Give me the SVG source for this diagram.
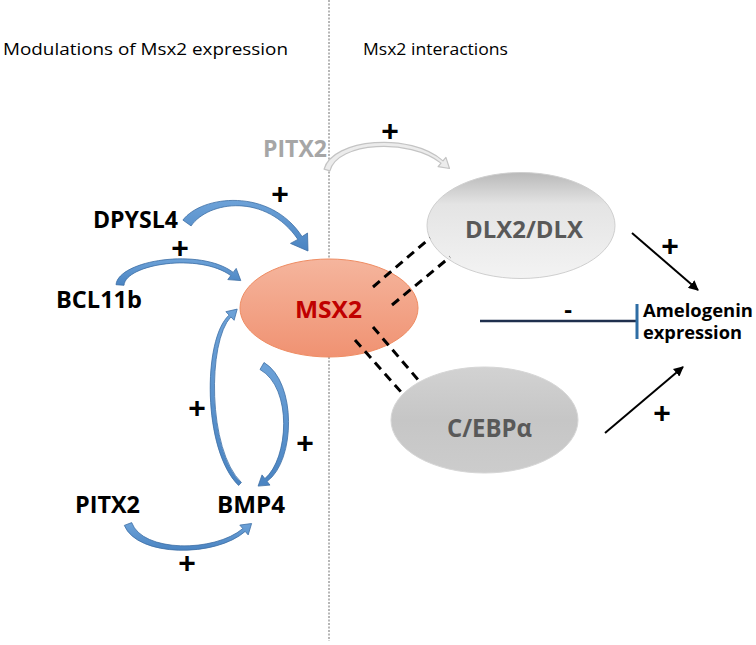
<svg xmlns="http://www.w3.org/2000/svg" width="756" height="645" viewBox="0 0 756 645">
<defs>
<linearGradient id="gMsx" x1="0" y1="0" x2="0" y2="1"><stop offset="0" stop-color="#f5b59d"/><stop offset="1" stop-color="#f09272"/></linearGradient>
<linearGradient id="gDlx" x1="0" y1="0" x2="0" y2="1"><stop offset="0" stop-color="#b9b9b9"/><stop offset="0.3" stop-color="#e4e4e4"/><stop offset="1" stop-color="#f3f3f3"/></linearGradient>
<linearGradient id="gCeb" x1="0" y1="0" x2="0" y2="1"><stop offset="0" stop-color="#d2d2d2"/><stop offset="0.5" stop-color="#c6c6c6"/><stop offset="1" stop-color="#cccccc"/></linearGradient>
<linearGradient id="gBlue" x1="0" y1="0" x2="0" y2="1"><stop offset="0" stop-color="#6da2d8"/><stop offset="1" stop-color="#4a84c2"/></linearGradient>
<marker id="ah" viewBox="0 0 10 10" refX="9" refY="5" markerWidth="5" markerHeight="5" orient="auto"><path d="M0 0 L10 5 L0 10 Z" fill="#000"/></marker>
</defs>
<style>
.t{font-family:"Open Sans","Liberation Sans",sans-serif;}
.hd{font-size:17px;fill:#000;}
.nb{font-size:24px;font-weight:bold;fill:#000;}
.pl{font-family:"Liberation Sans",sans-serif;font-size:30px;font-weight:bold;fill:#000;text-anchor:middle;}
.blue{fill:url(#gBlue);stroke:#3e6fa5;stroke-width:0.8;stroke-linejoin:round;}
.dash{stroke:#000;stroke-width:3;stroke-dasharray:9 6;fill:none;}
</style>
<rect width="756" height="645" fill="#fff"/>
<line x1="329" y1="0" x2="329" y2="641" stroke="#6e6e6e" stroke-width="1" stroke-dasharray="2 1.5"/>
<text class="t hd" x="3" y="55" textLength="285" lengthAdjust="spacingAndGlyphs">Modulations of Msx2 expression</text>
<text class="t hd" x="363" y="55" textLength="145" lengthAdjust="spacingAndGlyphs">Msx2 interactions</text>

<g id="msx2">
<ellipse cx="329" cy="308" rx="89" ry="49" fill="url(#gMsx)" stroke="#ef8c62" stroke-width="1"/>
<text class="t" x="328.5" y="318" text-anchor="middle" font-size="24" font-weight="bold" fill="#c00000" textLength="67" lengthAdjust="spacingAndGlyphs">MSX2</text>
</g>
<g id="dlx">
<ellipse cx="521" cy="225.5" rx="94" ry="53" fill="url(#gDlx)" stroke="#cfcfcf" stroke-width="1"/>
<text class="t" x="524" y="238" text-anchor="middle" font-size="24" font-weight="bold" fill="#595959" textLength="118" lengthAdjust="spacingAndGlyphs">DLX2/DLX</text>
</g>
<g id="cebp">
<ellipse cx="484.5" cy="420" rx="93.5" ry="53" fill="url(#gCeb)" stroke="#d6d6d6" stroke-width="1"/>
<text class="t" x="489.5" y="437" text-anchor="middle" font-size="25" font-weight="bold" fill="#595959" textLength="85" lengthAdjust="spacingAndGlyphs">C/EBPα</text>
</g>
<g id="pitx2-top">
<text class="t" x="263" y="157" font-size="24" font-weight="bold" fill="#a6a6a6" textLength="64" lengthAdjust="spacingAndGlyphs">PITX2</text>
</g>
<g id="dpysl4">
<text class="t nb" x="93" y="228" textLength="85" lengthAdjust="spacingAndGlyphs">DPYSL4</text>
</g>
<g id="bcl11b">
<text class="t nb" x="56" y="308" textLength="86" lengthAdjust="spacingAndGlyphs">BCL11b</text>
</g>
<g id="pitx2">
<text class="t nb" x="75" y="513" textLength="65" lengthAdjust="spacingAndGlyphs">PITX2</text>
</g>
<g id="bmp4">
<text class="t nb" x="217" y="513" textLength="68" lengthAdjust="spacingAndGlyphs">BMP4</text>
</g>
<g id="amelogenin">
<text class="t" x="643" y="317" font-size="18" font-weight="bold" fill="#000" textLength="110" lengthAdjust="spacingAndGlyphs">Amelogenin</text>
<text class="t" x="643" y="339" font-size="18" font-weight="bold" fill="#000" textLength="99" lengthAdjust="spacingAndGlyphs">expression</text>
</g>

<g id="connectors">
<path class="blue" d="M182.9 220.1 C201.4 195.4 269.8 187 302.1 236.6 L307.5 233 L308 251 L290.5 243.4 L297.9 239.4 C266.2 193 208.6 200.6 191.1 225.9 Z"/>
<path class="blue" d="M116 284.7 C118.5 260 200.5 247.5 233.2 272.4 L236.2 268.4 L240.8 280.6 L227.8 279.6 L230.8 275.6 C199.5 252.5 125.5 264 124 285.3 Z"/>
<path class="blue" d="M238.6 485.5 C202.5 450 202.5 339 229.1 315.1 L225.9 311.7 L237.2 309.1 L234.1 320.3 L230.9 316.9 C207.5 341 207.5 450 241.4 482.5 Z"/>
<path class="blue" d="M264 362.5 C297 382 295.5 461 267.1 481.4 L270 485.1 L258.1 486.1 L262 474.9 L264.9 478.6 C288.5 459 293 388 260 369.5 Z"/>
<path class="blue" d="M124.3 525.4 C137.5 557.5 215.8 557.4 245.2 531.4 L248.2 534.9 L251.6 523.5 L239.8 525.1 L242.8 528.6 C214.2 552.6 142.5 552.5 131.7 522.6 Z"/>
<path d="M324.1 169.2 C332.5 138.5 410.5 132 443 160.9 L445.9 157.4 L449.5 168.5 L438.1 166.6 L441 163.1 C409.5 138 337.5 141.5 329.9 170.8 Z" fill="#ececec" stroke="#c4c4c4" stroke-width="1.2" stroke-linejoin="round"/>
<line class="dash" x1="373" y1="287" x2="430" y2="238"/>
<line class="dash" x1="392" y1="305" x2="450" y2="257"/>
<line class="dash" x1="373" y1="327" x2="420" y2="382"/>
<line class="dash" x1="355" y1="340" x2="402" y2="393"/>
<line x1="632" y1="233" x2="698" y2="290" stroke="#000" stroke-width="2" marker-end="url(#ah)"/>
<line x1="605" y1="433" x2="683" y2="367" stroke="#000" stroke-width="2" marker-end="url(#ah)"/>
<line x1="480" y1="321" x2="636" y2="321" stroke="#1f2f4d" stroke-width="2.5"/>
<line x1="637" y1="304" x2="637" y2="339" stroke="#2e6da4" stroke-width="3"/>
<text class="pl" x="390" y="141">+</text>
<text class="pl" x="280" y="204">+</text>
<text class="pl" x="180" y="258">+</text>
<text class="pl" x="197" y="418">+</text>
<text class="pl" x="305" y="453">+</text>
<text class="pl" x="187" y="573">+</text>
<text class="pl" x="670" y="256">+</text>
<text class="pl" x="662" y="423">+</text>
<text class="t" x="568" y="318" font-size="24" font-weight="bold" text-anchor="middle">-</text>
</g>
</svg>
